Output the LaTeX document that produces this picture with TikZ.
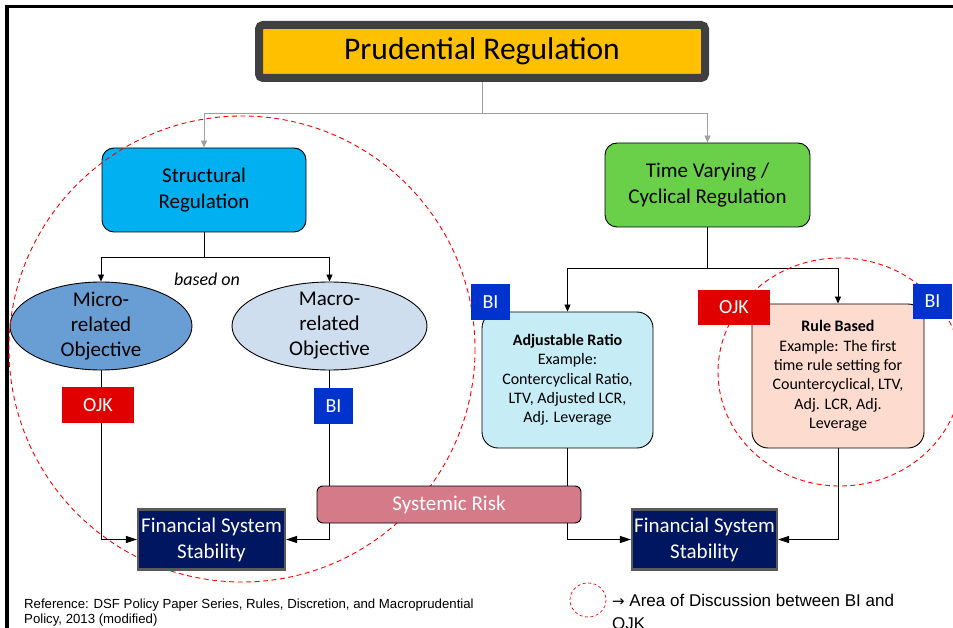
\documentclass[tikz,border=0pt]{standalone}
\usepackage{fontspec}
\setmainfont{Carlito}
\newfontfamily\notefont{Liberation Sans}
\newfontfamily\arrowfont{DejaVu Sans}
\usetikzlibrary{arrows.meta,shapes.geometric}
\definecolor{titlegold}{HTML}{FFC000}
\definecolor{titlerim}{HTML}{404040}
\definecolor{structblue}{HTML}{00B0F0}
\definecolor{cycgreen}{HTML}{6AD04A}
\definecolor{microblue}{HTML}{699ED4}
\definecolor{macroblue}{HTML}{CFDEEF}
\definecolor{ojkred}{HTML}{E00000}
\definecolor{biblue}{HTML}{0033CC}
\definecolor{fssnavy}{HTML}{001660}
\definecolor{fssrim}{HTML}{5A5A5A}
\definecolor{riskpink}{HTML}{D57A89}
\definecolor{ratiocyan}{HTML}{C6ECF6}
\definecolor{rulepeach}{HTML}{FDDCCF}
\definecolor{feedgray}{HTML}{A0A0A0}
\pgfdeclarelayer{paper}
\pgfdeclarelayer{lines}
\pgfsetlayers{paper,lines,main}
\begin{document}
\begin{tikzpicture}[
        x=1pt, y=-1pt,
        every node/.style={inner sep=0pt, align=center},
        regbox/.style={draw=black, line width=0.9pt, rounded corners=12pt, font=\fontsize{21}{26}\selectfont},
        goalshape/.style={ellipse, draw=black, line width=0.9pt, minimum width=182pt, minimum height=88pt},
        toolbox/.style={draw=black, line width=0.9pt, rounded corners=16pt, font=\fontsize{16}{19.3}\selectfont},
        stabbox/.style={draw=fssrim, line width=2.2pt, fill=fssnavy, text=white, minimum width=145pt, minimum height=60pt, font=\fontsize{21}{26}\selectfont},
        tag/.style={text=white, minimum height=36pt, font=\fontsize{20}{24}\selectfont},
        ojktag/.style={tag, fill=ojkred, minimum width=72pt},
        bitag/.style={tag, fill=biblue, minimum width=39pt},
        link/.style={draw=black, line width=0.9pt},
        feed/.style={draw=feedgray, line width=0.9pt, -{Triangle[length=7pt,width=6pt]}},
        down/.style={link, -{Triangle[length=7pt,width=6pt]}},
        side/.style={link, -{Triangle[length=11pt,width=7pt]}},
        discuss/.style={draw=red, line width=0.9pt, dash pattern=on 5pt off 3.5pt}
    ]
    \useasboundingbox (0,0) rectangle (953,628);
    \begin{pgfonlayer}{paper}
        \fill[white] (0,0) rectangle (953,628);
    \end{pgfonlayer}
    \fill[black] (5,5) rectangle (953,8.5);
    \fill[black] (5,5) rectangle (8.5,628);

    \node (title) [draw=titlerim, line width=8pt, rounded corners=4pt, fill=titlegold,
        minimum width=446pt, minimum height=53pt, font=\fontsize{31.5}{36}\selectfont] at (482,51.5) {Prudential Regulation};
    \node (struct) [regbox, fill=structblue, minimum width=204pt, minimum height=84pt] at (204,190) {Structural\\Regulation};
    \node (cyc) [regbox, fill=cycgreen, minimum width=205pt, minimum height=84pt] at (707.5,185) {Time Varying /\\Cyclical Regulation};
    \node (micro) [goalshape, fill=microblue,
        label={[font=\fontsize{21}{25}\selectfont, align=center]center:Micro-\\related\\Objective}] at (101,326) {};
    \node (macro) [goalshape, fill=macroblue, minimum width=195pt,
        label={[font=\fontsize{21}{25}\selectfont, align=center]center:Macro-\\related\\Objective}] at (329.5,326) {};
    \node (basedon) [font=\fontsize{18}{22}\selectfont\itshape] at (207,279) {based on};
    \node (adj) [toolbox, fill=ratiocyan, minimum width=171pt, minimum height=136pt] at (567.5,380)
        {\textbf{Adjustable Ratio}\\Example:\\Contercyclical Ratio,\\LTV, Adjusted LCR,\\Adj. Leverage};
    \node (rule) [toolbox, fill=rulepeach, minimum width=172pt, minimum height=144pt] at (838,376)
        {\textbf{Rule Based}\\Example: The first\\time rule setting for\\Countercyclical, LTV,\\Adj. LCR, Adj.\\Leverage};

    \draw[discuss] (242,349) circle [radius=233];
    \draw[discuss] (840,372) ellipse [x radius=122, y radius=114];

    \node (fssL) [stabbox, minimum width=147pt] at (211.5,539.5) {Financial System\\Stability};
    \node (fssR) [stabbox] at (704.5,539.5) {Financial System\\Stability};
    \node (ojkL) [ojktag] at (98,405) {OJK};
    \node (biL) [bitag] at (333.5,406) {BI};
    \node (biA) [bitag] at (490.5,302) {BI};
    \node (ojkR) [ojktag, minimum height=35pt] at (734,307.5) {OJK};
    \node (biR) [bitag, minimum height=35pt] at (932.5,301.5) {BI};
    \node (risk) [draw=black, line width=0.9pt, rounded corners=6pt, fill=riskpink, text=white,
        minimum width=264pt, minimum height=37pt, font=\fontsize{21}{26}\selectfont] at (449,504.5) {Systemic Risk};

    \begin{pgfonlayer}{lines}
        \draw[feed] (title.south) -- ++(0,31) coordinate (split) -| (struct.north);
        \draw[feed] (split) -| (cyc.north);
        \draw[down] (struct.south) -- ++(0,25) coordinate (sb) -| (micro.north);
        \draw[down] (sb) -| (macro.north);
        \draw[down] (cyc.south) -- ++(0,41) coordinate (cb) -| (adj.north);
        \draw[down] (cb) -| (rule.north);
        \draw[side] (micro.south) |- (fssL.west);
        \draw[side] (macro.south) |- (fssL.east);
        \draw[side] (adj.south) |- (fssR.west);
        \draw[side] (rule.south) |- (fssR.east);
    \end{pgfonlayer}

    \node (source) [anchor=north west, align=left, font=\notefont\fontsize{13.2}{15}\selectfont] at (24,599)
        {Reference: DSF Policy Paper Series, Rules, Discretion, and Macroprudential\\Policy, 2013 (modified)};
    \draw[discuss, dash pattern=on 3pt off 2.5pt, line width=0.7pt] (588,600) ellipse [x radius=18, y radius=17];
    \node (legend) [anchor=north west, align=left, font=\notefont\fontsize{17}{23}\selectfont] at (612,594)
        {{\arrowfont\fontsize{15}{23}\selectfont →} Area of Discussion between BI and\\OJK};
\end{tikzpicture}
\end{document}
